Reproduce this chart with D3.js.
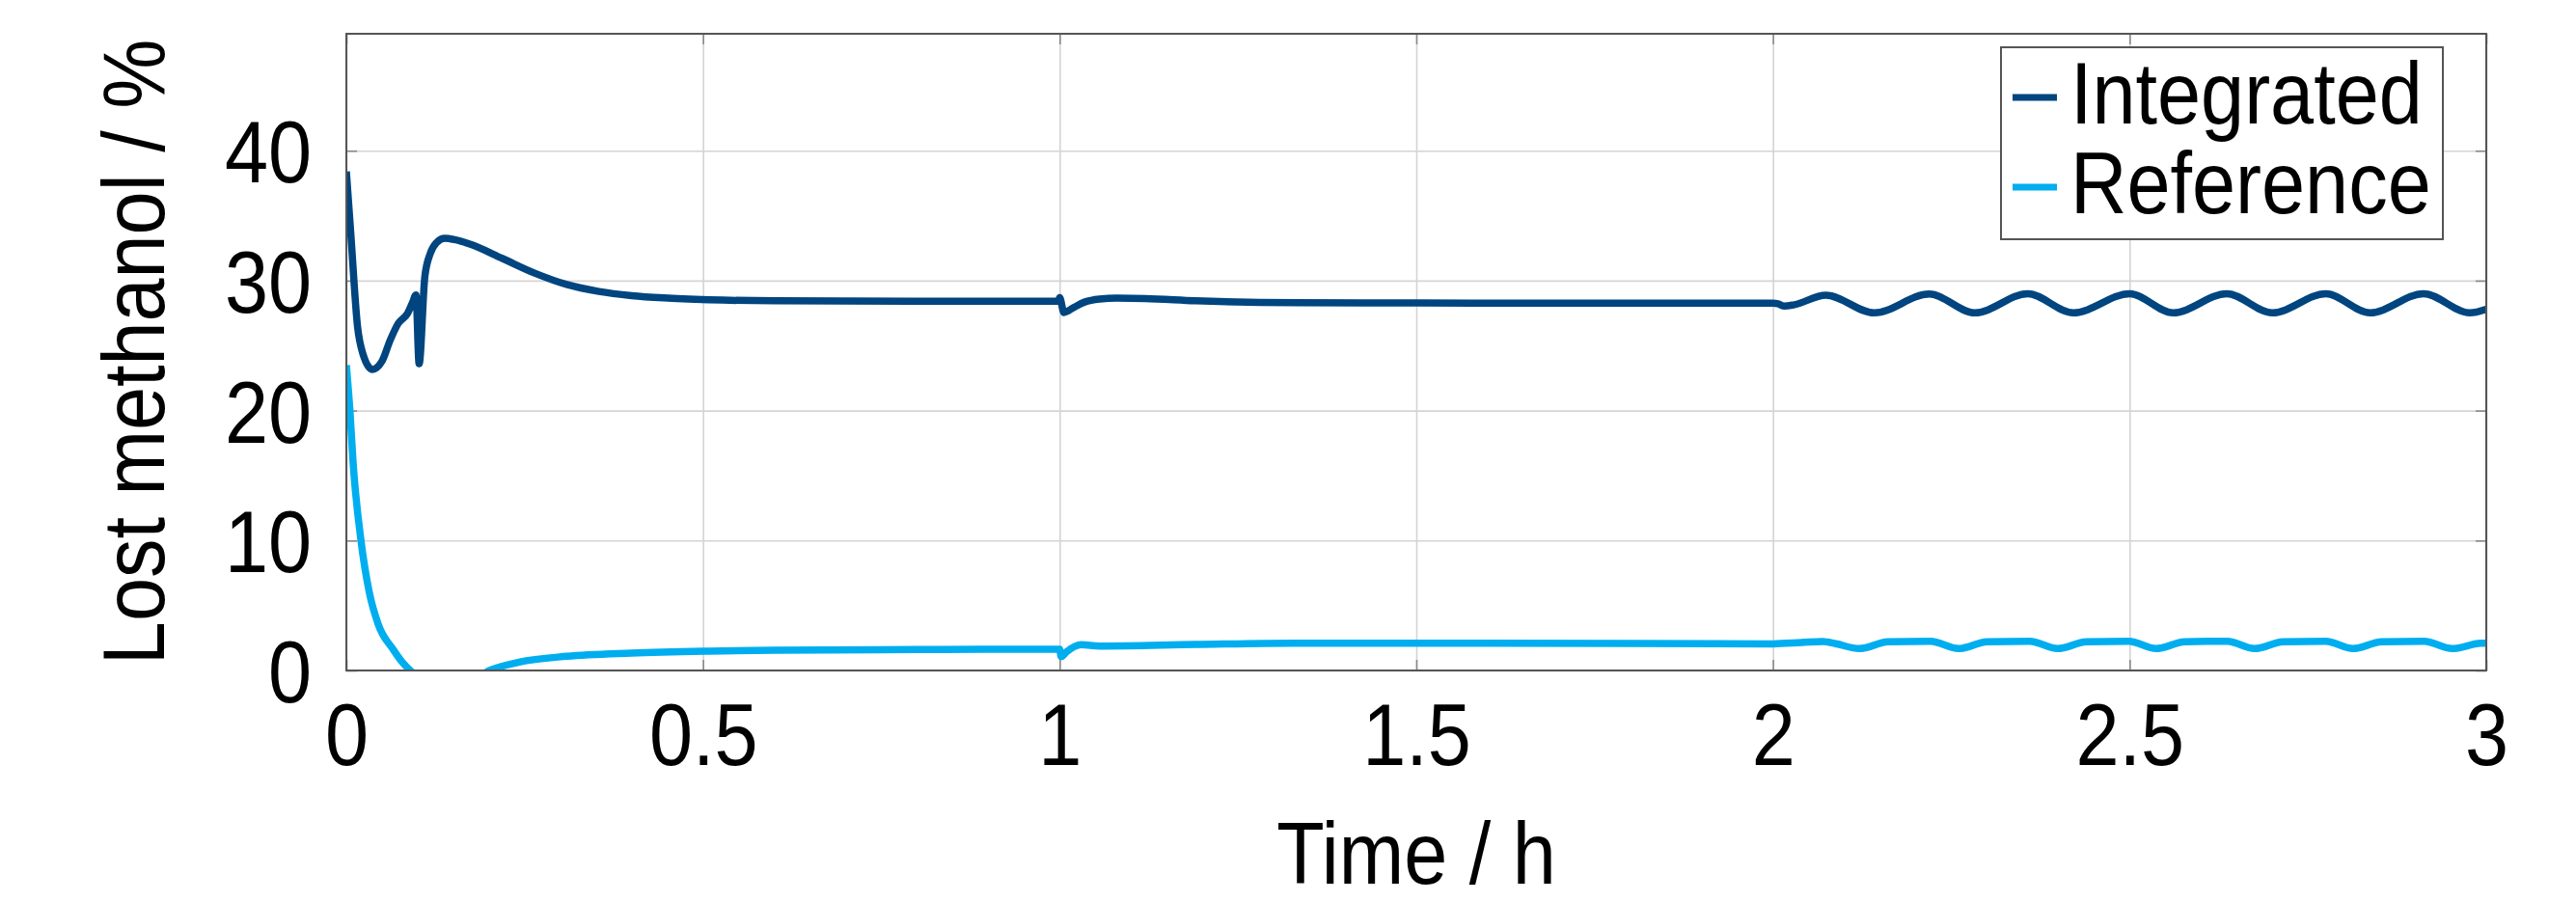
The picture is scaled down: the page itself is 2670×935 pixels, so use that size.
<!DOCTYPE html>
<html>
<head>
<meta charset="utf-8">
<script src="https://cdn.jsdelivr.net/npm/d3@7"></script>
<style>
	html, body { margin: 0; padding: 0; background: #fff; }
	text { font-family: "Liberation Sans", Arial, sans-serif; fill: #000; transform-box: fill-box; }
	.narrow-mid { transform: scaleX(0.9); transform-origin: center; }
	.narrow-end { transform: scaleX(0.9); transform-origin: right center; }
	.narrow-start { transform: scaleX(0.9); transform-origin: left center; }
</style>
</head>
<body>
<script>
// time in h, lost methanol in %
var integratedTime = [0, 0.006, 0.0158, 0.023, 0.0365, 0.05, 0.0613, 0.0726, 0.086, 0.093, 0.0975,
	0.102, 0.11, 0.1177, 0.1267, 0.138, 0.1515, 0.174, 0.219, 0.264, 0.309, 0.354, 0.4, 0.445, 0.508,
	0.6, 0.8, 0.998, 1.0, 1.006, 1.02, 1.035, 1.056, 1.08, 1.12, 1.19, 1.33, 1.5, 1.8, 2.0,
	2.007, 2.016, 2.03, 2.074, 2.142, 2.219, 2.283, 2.357, 2.421, 2.5, 2.561, 2.636, 2.7, 2.775,
	2.837, 2.912, 2.977, 3.0];
var integratedValue = [38.4, 33.8, 26.4, 24.4, 23.17, 23.8, 25.4, 26.7, 27.5, 28.35, 28.9,
	23.6, 30.3, 32.1, 32.94, 33.26, 33.16, 32.8, 31.7, 30.58, 29.7, 29.17, 28.85, 28.67, 28.53,
	28.45, 28.42, 28.42, 28.7, 27.55, 27.95, 28.35, 28.58, 28.65, 28.62, 28.45, 28.3, 28.28, 28.27, 28.27,
	28.22, 28.04, 28.15, 28.88, 27.52, 28.97, 27.52, 29.0, 27.52, 29.0, 27.52, 29.0, 27.52, 29.0,
	27.52, 29.0, 27.52, 27.8];

var referenceTime = [0, 0.005, 0.0095, 0.0205, 0.032, 0.0446, 0.066, 0.079, 0.0897, 0.1, 0.13,
	0.16, 0.19, 0.201, 0.242, 0.309, 0.4, 0.508, 0.6, 0.8, 0.998, 1.0, 1.002, 1.01, 1.03, 1.056,
	1.19, 1.327, 1.6, 2.0, 2.04, 2.07, 2.088, 2.121, 2.161, 2.221, 2.26, 2.3, 2.36, 2.399, 2.439,
	2.499, 2.537, 2.577, 2.637, 2.675, 2.715, 2.775, 2.813, 2.853, 2.913, 2.952, 2.992, 3.0];
var referenceValue = [23.5, 20, 15.96, 10.0, 6.05, 3.57, 1.59, 0.6, 0, -0.4, -0.9,
	-0.8, -0.3, 0, 0.64, 1.09, 1.34, 1.49, 1.56, 1.61, 1.64, 1.64, 1.07, 1.45, 1.98, 1.88,
	2.0, 2.1, 2.1, 2.05, 2.15, 2.23, 2.06, 1.68, 2.2, 2.25, 1.68, 2.2, 2.25, 1.68, 2.2,
	2.25, 1.68, 2.2, 2.25, 1.68, 2.2, 2.25, 1.68, 2.2, 2.25, 1.68, 2.09, 2.1];

var xTicks = [0, 0.5, 1, 1.5, 2, 2.5, 3];
var yTicks = [0, 10, 20, 30, 40];
var seriesNames = ['Integrated', 'Reference'];
var seriesColors = ['#00457f', '#00aeef'];

var width = 2670;
var height = 935;
var margin = { left: 359, right: 93, top: 35, bottom: 240 };
var plotW = width - margin.left - margin.right;
var plotH = height - margin.top - margin.bottom;
var fontSize = 90;

var svg = d3.select('body')
	.append('svg')
	.attr('width', width)
	.attr('height', height);

var x = d3.scaleLinear().domain([0, 3]).range([0, plotW]);
var y = d3.scaleLinear().domain([0, 49]).range([plotH, 0]);

var g = svg.append('g')
	.attr('transform', 'translate(' + margin.left + ',' + margin.top + ')');

// grid
g.append('g')
	.attr('transform', 'translate(0,' + plotH + ')')
	.call(d3.axisBottom(x).tickValues(xTicks).tickSize(-plotH).tickFormat(''))
	.call(styleGrid);

g.append('g')
	.call(d3.axisLeft(y).tickValues(yTicks).tickSize(-plotW).tickFormat(''))
	.call(styleGrid);

function styleGrid(sel) {
	sel.select('.domain').remove();
	sel.selectAll('line')
		.attr('stroke', '#d4d4d4')
		.attr('stroke-width', 1.6);
}

// small inner ticks on all four sides
var tickLen = 11;
var sides = [
	{ axis: d3.axisBottom(x).tickValues(xTicks), tr: 'translate(0,' + plotH + ')' },
	{ axis: d3.axisTop(x).tickValues(xTicks), tr: 'translate(0,0)' },
	{ axis: d3.axisLeft(y).tickValues(yTicks), tr: 'translate(0,0)' },
	{ axis: d3.axisRight(y).tickValues(yTicks), tr: 'translate(' + plotW + ',0)' }
];
sides.forEach(function (s) {
	g.append('g')
		.attr('transform', s.tr)
		.call(s.axis.tickSizeInner(-tickLen).tickSizeOuter(0).tickFormat(''))
		.call(function (sel) {
			sel.select('.domain').remove();
			sel.selectAll('line').attr('stroke', '#8a8a8a').attr('stroke-width', 1.6);
		});
});

// lines
g.append('clipPath')
	.attr('id', 'plot-clip')
	.append('rect')
	.attr('width', plotW)
	.attr('height', plotH);

var line = d3.line()
	.x(function (d) { return x(d[0]); })
	.y(function (d) { return y(d[1]); })
	.curve(d3.curveMonotoneX);

var series = [
	d3.zip(integratedTime, integratedValue),
	d3.zip(referenceTime, referenceValue)
];

g.append('g')
	.attr('clip-path', 'url(#plot-clip)')
	.selectAll('path')
	.data(series)
	.enter()
	.append('path')
	.attr('d', line)
	.attr('fill', 'none')
	.attr('stroke', function (d, i) { return seriesColors[i]; })
	.attr('stroke-width', 7.5)
	.attr('stroke-linejoin', 'miter');

// frame
g.append('rect')
	.attr('width', plotW)
	.attr('height', plotH)
	.attr('fill', 'none')
	.attr('stroke', '#555')
	.attr('stroke-width', 2);

// tick labels
var xLabels = g.append('g')
	.attr('transform', 'translate(0,' + plotH + ')')
	.call(d3.axisBottom(x).tickValues(xTicks).tickSize(0).tickFormat(d3.format('~g')));
xLabels.select('.domain').remove();
xLabels.selectAll('text')
	.attr('y', 98)
	.attr('dy', null)
	.attr('class', 'narrow-mid')
	.style('font-size', fontSize + 'px');

var yLabels = g.append('g')
	.call(d3.axisLeft(y).tickValues(yTicks).tickSize(0).tickFormat(d3.format('~g')));
yLabels.select('.domain').remove();
yLabels.selectAll('text')
	.attr('x', -36)
	.attr('dy', '0.36em')
	.attr('class', 'narrow-end')
	.style('font-size', fontSize + 'px');

// axis titles
svg.append('text')
	.attr('x', margin.left + plotW / 2)
	.attr('y', 916)
	.attr('text-anchor', 'middle')
	.attr('class', 'narrow-mid')
	.style('font-size', fontSize + 'px')
	.text('Time / h');

svg.append('g')
	.attr('transform', 'translate(170,' + (margin.top + plotH / 2) + ') rotate(-90)')
	.append('text')
	.attr('text-anchor', 'middle')
	.attr('class', 'narrow-mid')
	.style('font-size', fontSize + 'px')
	.text('Lost methanol / %');

// legend
var legend = svg.append('g');
legend.append('rect')
	.attr('x', 2074)
	.attr('y', 49)
	.attr('width', 458)
	.attr('height', 199)
	.attr('fill', '#fff')
	.attr('stroke', '#555')
	.attr('stroke-width', 2);

seriesNames.forEach(function (name, i) {
	var base = 128 + i * 93;
	legend.append('line')
		.attr('x1', 2086)
		.attr('x2', 2132)
		.attr('y1', base - 27)
		.attr('y2', base - 27)
		.attr('stroke', seriesColors[i])
		.attr('stroke-width', 7);
	legend.append('text')
		.attr('x', 2146)
		.attr('y', base)
		.attr('class', 'narrow-start')
		.style('font-size', fontSize + 'px')
		.text(name);
});
</script>
</body>
</html>
